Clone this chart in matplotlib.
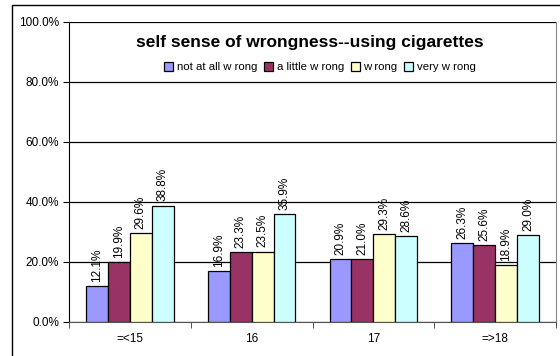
import matplotlib
matplotlib.use("Agg")
import matplotlib.pyplot as plt
from matplotlib.patches import Rectangle
import numpy as np

plt.rcParams['font.family'] = ['Liberation Sans', 'DejaVu Sans']

categories = ["=<15", "16", "17", "=>18"]
series_names = ["not at all w rong", "a little w rong", "w rong", "very w rong"]
not_at_all = [12.1, 16.9, 20.9, 26.3]
a_little = [19.9, 23.3, 21.0, 25.6]
wrong = [29.6, 23.5, 29.3, 18.9]
very_wrong = [38.8, 35.9, 28.6, 29.0]
colors = ["#9999FF", "#993366", "#FFFFCC", "#CCFFFF"]
y_ticks = [0, 20, 40, 60, 80, 100]

W, H = 560, 356
fig = plt.figure(figsize=(W / 100, H / 100), dpi=100)

# outer chart frame (runs off the right and bottom edges)
fig.patches.append(Rectangle((12 / W, -0.1), 1.2, (H - 5) / H + 0.1,
                             transform=fig.transFigure, fill=False,
                             edgecolor="black", linewidth=1.0))

ax = fig.add_axes([69 / W, (H - 322) / H, (556 - 69) / W, (322 - 22) / H])

series = [not_at_all, a_little, wrong, very_wrong]
n = len(categories)
bw = 0.18
x = np.arange(n)
for i, (vals, col, name) in enumerate(zip(series, colors, series_names)):
    pos = x + (i - 1.5) * bw
    ax.bar(pos, vals, width=bw, color=col, edgecolor="black", linewidth=0.9,
           label=name, zorder=3)
    for p, v in zip(pos, vals):
        ax.annotate(f"{v:.1f}%", (p, v), xytext=(0, 3), textcoords="offset points",
                    rotation=90, ha="center", va="bottom", fontsize=8.5, zorder=4)

ax.set_xlim(-0.5, n - 0.5)
ax.set_ylim(0, 100)
ax.set_yticks(y_ticks)
ax.set_yticklabels([f"{t:.1f}%" for t in y_ticks], fontsize=8.5)
ax.yaxis.grid(True, color="black", linewidth=0.9, zorder=0)
ax.set_axisbelow(True)

ax.set_xticks(x)
ax.set_xticklabels(categories, fontsize=8.5)
ax.tick_params(axis="x", length=0, pad=8)
ax.set_xticks(np.arange(n + 1) - 0.5, minor=True)
ax.tick_params(axis="x", which="minor", length=4, direction="out", color="#333333")
ax.tick_params(axis="y", length=4, direction="out", pad=3)

ax.spines["top"].set_visible(False)
ax.spines["right"].set_color("#888888")
ax.spines["bottom"].set_color("#555555")
ax.spines["left"].set_color("black")

fig.text(310 / W, (H - 42) / H, "self sense of wrongness--using cigarettes",
         ha="center", va="center", fontsize=12.5, fontweight="bold")

leg = ax.legend(loc="center", bbox_to_anchor=(320 / W, (H - 67) / H),
                bbox_transform=fig.transFigure, ncol=4, frameon=False,
                fontsize=8.2, handlelength=0.8, handleheight=0.8,
                handletextpad=0.3, columnspacing=0.6, borderpad=0)

fig.savefig("out.png", dpi=100)
